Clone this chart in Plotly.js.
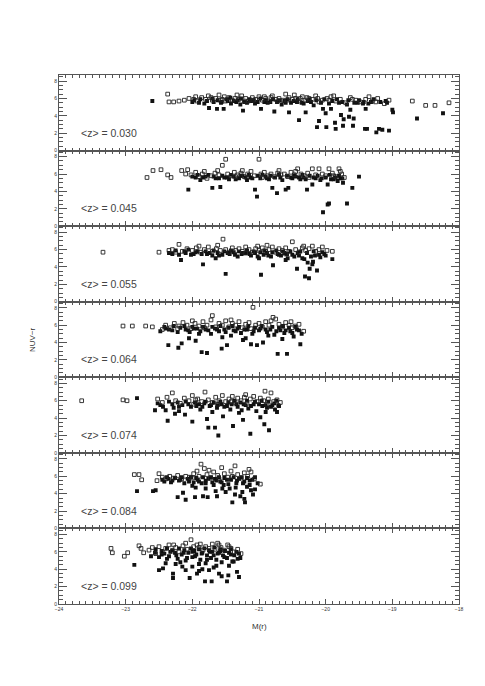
<!DOCTYPE html>
<html>
<head>
<meta charset="utf-8">
<script src="https://cdn.plot.ly/plotly-3.0.1.min.js"></script>
<style>
  html, body { margin: 0; padding: 0; background: #fff; }
  #chart { width: 485px; height: 686px; }
</style>
</head>
<body>
<div id="chart"></div>
<script>
// mean redshift of each slice, top to bottom
const redshifts = ['0.030', '0.045', '0.055', '0.064', '0.074', '0.084', '0.099']

// [M(r), NUV-r] pairs, open symbols and filled symbols per slice
const open030 = [[-22.37,6.5],[-22.35,5.6],[-22.28,5.6],[-22.2,5.7],[-22.12,5.8],[-22.05,6.0],[-21.98,5.9],[-21.93,5.7],[-21.86,6.1],[-21.8,5.9],[-21.76,6.3],[-21.7,5.8],[-21.65,6.0],[-21.6,6.4],[-21.55,5.9],[-21.5,5.7],[-21.45,6.1],[-21.4,5.8],[-21.36,6.0],[-21.3,5.9],[-21.26,6.3],[-21.2,6.0],[-21.16,5.7],[-21.1,6.1],[-21.05,5.9],[-21.0,6.2],[-20.95,5.8],[-20.9,6.0],[-20.85,5.7],[-20.8,6.3],[-20.75,5.9],[-20.7,6.0],[-20.64,5.8],[-20.6,6.5],[-20.55,6.1],[-20.5,5.9],[-20.45,6.0],[-20.4,5.7],[-20.35,6.2],[-20.3,5.8],[-20.25,6.0],[-20.2,5.9],[-20.15,6.3],[-20.1,5.6],[-20.05,5.8],[-19.98,6.0],[-19.92,6.2],[-19.85,5.7],[-19.78,5.9],[-19.7,5.5],[-19.63,6.1],[-19.55,5.8],[-19.48,5.6],[-19.4,5.9],[-19.3,5.7],[-19.22,6.0],[-19.12,5.4],[-19.05,5.8],[-18.7,5.7],[-18.5,5.2],[-18.36,5.2],[-18.15,5.5],[-21.95,6.2],[-21.72,6.1],[-21.52,6.2],[-21.33,6.4],[-21.08,5.8],[-20.92,6.2],[-20.72,5.7],[-20.47,6.4],[-20.28,6.1],[-20.12,6.0],[-19.95,5.8],[-19.88,6.3],[-19.6,5.9],[-19.35,6.2],[-19.25,5.6],[-21.58,5.8],[-21.22,5.7],[-20.82,6.1],[-20.58,5.8],[-20.38,6.0]]
const filled030 = [[-22.6,5.7],[-22.0,5.6],[-21.9,5.5],[-21.82,5.4],[-21.75,4.9],[-21.68,5.6],[-21.63,4.8],[-21.57,5.5],[-21.53,4.8],[-21.47,5.7],[-21.42,5.4],[-21.34,5.6],[-21.28,5.3],[-21.24,4.6],[-21.18,5.5],[-21.12,5.7],[-21.06,5.4],[-20.97,4.8],[-20.92,5.6],[-20.87,5.5],[-20.77,4.5],[-20.73,5.6],[-20.66,5.3],[-20.62,5.7],[-20.55,4.4],[-20.52,5.5],[-20.43,5.6],[-20.4,3.5],[-20.33,5.4],[-20.3,4.4],[-20.22,5.6],[-20.18,5.2],[-20.13,2.7],[-20.1,3.4],[-20.04,4.8],[-20.0,4.3],[-19.99,2.7],[-19.92,4.8],[-19.86,3.2],[-19.85,2.5],[-19.8,5.5],[-19.77,4.1],[-19.74,2.85],[-19.73,3.6],[-19.68,5.3],[-19.65,3.9],[-19.63,4.7],[-19.59,2.85],[-19.58,3.7],[-19.52,5.5],[-19.44,5.4],[-19.41,2.5],[-19.4,4.8],[-19.38,2.5],[-19.32,5.6],[-19.24,2.1],[-19.2,2.5],[-19.15,2.4],[-19.05,2.3],[-19.0,4.7],[-18.99,4.4],[-19.08,5.5],[-18.63,3.7],[-18.24,4.3]]
const core030 = [[-21.97,5.8],[-21.88,5.9],[-21.78,5.7],[-21.7,6.0],[-21.62,5.8],[-21.56,5.6],[-21.48,5.9],[-21.43,6.1],[-21.38,5.7],[-21.32,5.8],[-21.27,6.0],[-21.22,5.6],[-21.14,5.9],[-21.09,5.8],[-21.02,5.6],[-20.98,6.0],[-20.9,5.8],[-20.83,5.6],[-20.79,5.9],[-20.69,5.8],[-20.6,5.5],[-20.57,5.9],[-20.48,5.7],[-20.42,5.9],[-20.36,5.5],[-20.27,5.7],[-20.24,5.9],[-20.14,5.8],[-20.07,5.5],[-20.02,5.9],[-19.95,5.4],[-19.9,5.7],[-19.83,5.9],[-19.75,5.6],[-19.66,5.8],[-19.57,5.5],[-19.5,5.8],[-19.43,5.6],[-19.36,5.4],[-19.28,5.9],[-19.18,5.6],[-19.1,5.7]]

const open045 = [[-22.68,5.6],[-22.59,6.4],[-22.47,6.5],[-22.37,5.9],[-22.32,5.6],[-22.16,6.4],[-22.07,6.5],[-22.02,5.9],[-21.95,6.2],[-21.9,5.7],[-21.85,6.0],[-21.78,5.5],[-21.72,5.8],[-21.66,6.1],[-21.6,5.9],[-21.55,7.0],[-21.5,7.7],[-21.47,6.0],[-21.42,5.8],[-21.37,6.2],[-21.32,5.9],[-21.27,6.1],[-21.22,5.7],[-21.17,6.0],[-21.12,6.3],[-21.07,5.8],[-21.0,7.7],[-20.97,6.0],[-20.92,6.2],[-20.87,5.8],[-20.82,6.0],[-20.77,5.7],[-20.72,6.1],[-20.67,5.9],[-20.62,6.0],[-20.57,5.7],[-20.52,6.2],[-20.47,5.9],[-20.42,6.6],[-20.37,6.0],[-20.32,5.8],[-20.27,6.1],[-20.2,6.6],[-20.15,5.9],[-20.1,6.6],[-20.05,6.0],[-20.0,5.8],[-19.95,6.6],[-19.9,6.1],[-19.85,5.7],[-19.8,6.6],[-19.76,6.0],[-19.72,5.6],[-21.82,6.3],[-21.62,6.4],[-21.25,6.4],[-20.95,5.6],[-20.7,6.4],[-20.45,6.3],[-20.25,5.6],[-19.88,5.8],[-19.78,6.3],[-22.1,6.0],[-21.35,5.7]]
const filled045 = [[-22.06,4.2],[-21.95,5.6],[-21.88,5.3],[-21.8,5.7],[-21.7,4.4],[-21.65,5.5],[-21.58,4.5],[-21.52,5.6],[-21.45,5.4],[-21.38,5.7],[-21.3,5.5],[-21.25,5.8],[-21.18,5.3],[-21.13,5.6],[-21.06,4.2],[-21.03,3.4],[-20.98,5.5],[-20.9,5.7],[-20.85,5.4],[-20.8,4.4],[-20.73,3.8],[-20.68,5.6],[-20.6,4.2],[-20.56,4.4],[-20.5,5.5],[-20.45,5.7],[-20.38,5.4],[-20.33,5.6],[-20.28,4.2],[-20.2,4.8],[-20.15,5.5],[-20.08,5.3],[-20.04,1.6],[-19.97,2.5],[-19.95,2.6],[-19.97,4.8],[-19.92,5.4],[-19.86,5.6],[-19.82,5.2],[-19.78,5.5],[-19.74,5.0],[-19.68,2.6],[-19.6,4.4],[-19.5,5.7]]
const core045 = [[-22.0,5.7],[-21.92,5.9],[-21.84,5.6],[-21.76,5.9],[-21.68,5.7],[-21.6,5.5],[-21.55,5.8],[-21.48,5.6],[-21.42,5.9],[-21.35,5.4],[-21.28,5.8],[-21.2,5.6],[-21.15,5.9],[-21.1,5.5],[-21.02,5.8],[-20.95,5.9],[-20.88,5.5],[-20.83,5.8],[-20.76,5.6],[-20.7,5.9],[-20.65,5.3],[-20.58,5.8],[-20.52,5.6],[-20.47,5.8],[-20.4,5.6],[-20.35,5.9],[-20.3,5.4],[-20.24,5.8],[-20.18,5.6],[-20.12,5.8],[-20.06,5.5],[-20.0,5.6],[-19.94,5.9],[-19.88,5.4],[-19.8,5.8],[-19.75,5.5]]

const open055 = [[-23.34,5.7],[-22.5,5.7],[-22.35,5.9],[-22.3,6.0],[-22.2,6.6],[-22.15,5.8],[-22.08,6.1],[-22.0,5.9],[-21.94,6.2],[-21.88,5.7],[-21.82,6.0],[-21.76,6.3],[-21.7,5.8],[-21.64,6.1],[-21.58,5.9],[-21.54,7.2],[-21.5,6.0],[-21.45,5.7],[-21.4,6.2],[-21.35,5.9],[-21.3,6.1],[-21.25,5.8],[-21.2,6.3],[-21.15,6.0],[-21.1,5.7],[-21.05,6.1],[-21.0,5.9],[-20.95,6.2],[-20.9,5.8],[-20.85,6.0],[-20.8,6.3],[-20.75,5.7],[-20.7,6.1],[-20.65,5.9],[-20.6,6.2],[-20.55,5.8],[-20.5,6.9],[-20.45,6.0],[-20.4,5.7],[-20.35,6.2],[-20.3,5.9],[-20.25,6.1],[-20.2,6.4],[-20.15,5.8],[-20.1,6.0],[-20.05,6.3],[-19.98,5.9],[-19.9,5.8],[-21.9,6.4],[-21.62,6.5],[-21.2,5.6],[-20.88,6.5],[-20.6,5.5],[-20.33,6.4],[-22.25,5.7],[-21.02,6.4]]
const filled055 = [[-22.3,5.5],[-22.17,4.8],[-22.1,5.6],[-22.02,5.4],[-21.95,5.7],[-21.84,4.3],[-21.78,5.5],[-21.7,5.3],[-21.62,5.6],[-21.55,5.4],[-21.5,3.2],[-21.44,5.5],[-21.38,5.7],[-21.32,5.2],[-21.26,5.5],[-21.2,5.6],[-21.12,5.3],[-21.06,5.6],[-20.97,3.1],[-20.93,5.4],[-20.88,5.6],[-20.82,5.2],[-20.79,4.2],[-20.72,5.5],[-20.67,5.3],[-20.62,5.6],[-20.57,5.0],[-20.5,5.4],[-20.43,3.8],[-20.4,5.3],[-20.35,5.0],[-20.31,2.9],[-20.27,4.5],[-20.25,2.7],[-20.24,3.8],[-20.19,4.6],[-20.16,5.3],[-20.13,3.6],[-20.08,5.1],[-20.02,5.5],[-19.9,4.9]]
const core055 = [[-22.35,5.6],[-22.25,5.9],[-22.2,5.4],[-22.12,5.8],[-22.06,6.0],[-21.98,5.5],[-21.92,5.8],[-21.86,5.5],[-21.8,5.8],[-21.74,5.6],[-21.68,5.9],[-21.6,5.3],[-21.52,5.8],[-21.47,5.6],[-21.42,5.9],[-21.36,5.4],[-21.3,5.8],[-21.24,5.6],[-21.18,5.9],[-21.14,5.5],[-21.08,5.8],[-21.02,5.2],[-20.98,5.7],[-20.92,5.9],[-20.86,5.3],[-20.8,5.7],[-20.74,5.9],[-20.7,5.4],[-20.64,5.8],[-20.58,5.5],[-20.53,5.8],[-20.47,5.2],[-20.42,5.6],[-20.38,5.8],[-20.32,4.9],[-20.28,5.6],[-20.22,5.2],[-20.18,5.8],[-20.1,5.4],[-20.05,5.7],[-20.0,5.3],[-21.65,5.0],[-21.0,5.0],[-20.6,4.8],[-20.2,4.3]]

const open064 = [[-23.04,5.9],[-22.9,5.9],[-22.7,5.9],[-22.6,5.8],[-22.45,5.5],[-22.4,6.0],[-22.33,5.7],[-22.27,6.2],[-22.2,5.9],[-22.14,6.3],[-22.08,6.0],[-22.02,5.6],[-21.96,6.2],[-21.9,5.9],[-21.84,6.4],[-21.78,6.0],[-21.72,6.6],[-21.7,7.1],[-21.65,5.8],[-21.6,6.2],[-21.55,6.0],[-21.5,6.5],[-21.45,5.8],[-21.4,6.2],[-21.35,6.0],[-21.3,6.4],[-21.25,5.7],[-21.2,6.1],[-21.15,6.3],[-21.09,8.05],[-21.05,6.0],[-21.0,6.2],[-20.95,5.8],[-20.9,6.4],[-20.85,6.0],[-20.79,6.9],[-20.75,6.7],[-20.7,6.1],[-20.65,5.8],[-20.6,6.3],[-20.55,6.0],[-20.5,5.7],[-20.46,5.9],[-20.4,6.1],[-20.33,5.3],[-22.0,6.5],[-21.82,5.7],[-21.42,6.6],[-21.12,5.6],[-20.82,6.5],[-20.52,6.4],[-22.22,5.6]]
const filled064 = [[-22.48,5.3],[-22.4,5.6],[-22.36,3.7],[-22.3,5.4],[-22.21,3.4],[-22.16,3.9],[-22.1,5.5],[-22.04,5.2],[-21.98,5.6],[-21.95,4.2],[-21.88,5.3],[-21.86,2.9],[-21.8,5.5],[-21.78,2.8],[-21.72,5.0],[-21.66,5.6],[-21.6,5.3],[-21.56,3.3],[-21.52,5.5],[-21.48,3.7],[-21.42,4.8],[-21.38,5.4],[-21.32,5.6],[-21.27,5.1],[-21.24,4.3],[-21.18,5.5],[-21.12,3.8],[-21.08,5.3],[-21.03,3.7],[-20.98,5.6],[-20.94,4.0],[-20.88,5.2],[-20.83,5.5],[-20.77,4.9],[-20.72,2.7],[-20.68,5.4],[-20.62,5.1],[-20.58,2.7],[-20.53,5.3],[-20.48,4.7],[-20.43,5.5],[-20.38,3.8],[-20.36,5.0]]
const core064 = [[-22.42,5.8],[-22.35,5.5],[-22.28,5.9],[-22.22,5.2],[-22.18,5.7],[-22.12,5.9],[-22.06,5.4],[-22.0,5.8],[-21.93,5.6],[-21.9,5.0],[-21.84,5.8],[-21.76,5.4],[-21.7,5.8],[-21.63,5.5],[-21.58,5.9],[-21.5,5.2],[-21.46,5.7],[-21.4,5.9],[-21.35,5.3],[-21.3,5.8],[-21.22,5.5],[-21.16,5.9],[-21.1,5.0],[-21.06,5.7],[-21.0,5.4],[-20.96,5.9],[-20.9,5.5],[-20.86,4.8],[-20.8,5.8],[-20.74,5.3],[-20.7,5.7],[-20.64,5.9],[-20.6,5.4],[-20.55,5.7],[-20.5,5.1],[-20.45,5.8],[-20.4,5.4],[-21.55,4.6],[-21.2,4.5],[-20.65,4.4],[-22.05,4.5]]

const open074 = [[-23.66,6.0],[-23.04,6.1],[-22.98,6.0],[-22.52,6.2],[-22.45,5.8],[-22.38,6.4],[-22.3,6.9],[-22.25,6.0],[-22.18,5.7],[-22.12,6.3],[-22.05,6.0],[-21.98,5.6],[-21.92,6.2],[-21.86,5.9],[-21.81,7.0],[-21.76,6.1],[-21.7,5.8],[-21.65,6.4],[-21.6,6.0],[-21.55,6.6],[-21.5,5.9],[-21.45,6.2],[-21.4,6.5],[-21.36,5.8],[-21.32,6.3],[-21.27,6.0],[-21.22,6.4],[-21.18,5.7],[-21.13,6.2],[-21.08,6.5],[-21.03,5.9],[-20.98,6.3],[-20.93,6.0],[-20.91,7.1],[-20.86,6.2],[-20.82,6.9],[-20.78,5.9],[-20.73,6.1],[-20.68,5.8],[-22.0,6.6],[-21.62,5.6],[-21.2,6.7],[-20.88,5.6],[-21.95,6.1],[-21.42,5.9]]
const filled074 = [[-22.83,6.3],[-22.56,4.9],[-22.48,5.5],[-22.4,4.9],[-22.37,3.7],[-22.3,5.6],[-22.26,4.5],[-22.2,5.3],[-22.11,4.4],[-22.06,5.6],[-22.0,3.6],[-21.94,5.4],[-21.88,5.0],[-21.82,5.7],[-21.78,3.9],[-21.76,2.9],[-21.72,5.5],[-21.66,2.9],[-21.63,5.2],[-21.61,2.0],[-21.56,5.6],[-21.54,4.2],[-21.48,5.4],[-21.43,5.0],[-21.39,3.1],[-21.34,5.6],[-21.3,4.6],[-21.24,3.8],[-21.2,5.5],[-21.16,5.1],[-21.13,2.2],[-21.08,5.6],[-21.04,4.8],[-20.98,4.1],[-20.95,5.4],[-20.92,3.3],[-20.88,5.2],[-20.85,2.6],[-20.8,5.5],[-20.76,5.0],[-20.73,4.7],[-20.7,5.4]]
const core074 = [[-22.52,5.7],[-22.44,5.3],[-22.35,5.9],[-22.28,5.2],[-22.22,5.8],[-22.15,5.5],[-22.1,5.9],[-22.02,5.3],[-21.96,5.8],[-21.9,5.6],[-21.85,5.3],[-21.8,5.9],[-21.74,5.4],[-21.68,5.8],[-21.62,5.5],[-21.58,5.9],[-21.52,5.3],[-21.46,5.8],[-21.41,5.6],[-21.37,6.0],[-21.32,5.3],[-21.28,5.8],[-21.23,5.6],[-21.18,6.0],[-21.12,5.4],[-21.06,5.9],[-21.0,5.6],[-20.96,6.0],[-20.9,5.5],[-20.86,5.9],[-20.82,5.3],[-20.77,5.7],[-20.74,6.0],[-20.71,5.5],[-21.7,4.7],[-21.26,4.9],[-20.9,4.7],[-22.2,4.8]]

const open084 = [[-22.87,6.2],[-22.8,6.2],[-22.76,5.6],[-22.53,5.5],[-22.5,6.3],[-22.45,5.9],[-22.4,5.7],[-22.34,6.0],[-22.28,5.8],[-22.22,6.1],[-22.16,5.7],[-22.1,6.0],[-22.04,5.9],[-21.98,6.3],[-21.93,6.6],[-21.87,7.4],[-21.82,6.9],[-21.78,6.2],[-21.73,5.8],[-21.68,6.5],[-21.62,6.1],[-21.56,7.0],[-21.52,6.3],[-21.47,5.9],[-21.42,6.6],[-21.36,7.2],[-21.32,6.2],[-21.27,5.8],[-21.22,6.4],[-21.17,6.0],[-21.12,6.5],[-21.07,5.7],[-20.98,5.1],[-21.9,6.0],[-21.6,5.7],[-21.4,6.0],[-21.75,6.7],[-21.15,6.8],[-22.0,5.8]]
const filled084 = [[-22.83,4.3],[-22.59,4.3],[-22.55,4.4],[-22.42,5.4],[-22.36,5.7],[-22.3,5.5],[-22.22,3.6],[-22.18,5.6],[-22.14,4.1],[-22.1,3.3],[-22.05,5.4],[-21.96,3.6],[-21.92,5.6],[-21.86,5.2],[-21.84,3.7],[-21.8,5.5],[-21.77,3.6],[-21.7,5.3],[-21.66,5.7],[-21.63,3.7],[-21.58,5.4],[-21.53,5.0],[-21.48,5.6],[-21.44,4.6],[-21.4,3.0],[-21.36,3.9],[-21.33,5.5],[-21.28,3.7],[-21.24,5.2],[-21.21,3.0],[-21.18,4.8],[-21.14,5.5],[-21.09,3.9],[-21.06,4.5],[-21.02,5.2],[-21.25,4.2],[-21.55,4.6],[-21.95,4.7],[-21.22,3.4]]
const core084 = [[-22.45,5.6],[-22.38,5.9],[-22.32,5.3],[-22.26,5.8],[-22.2,5.5],[-22.16,5.9],[-22.12,5.2],[-22.07,5.7],[-22.02,5.9],[-21.98,5.3],[-21.94,5.8],[-21.9,5.4],[-21.84,5.9],[-21.8,5.2],[-21.76,5.7],[-21.72,5.9],[-21.68,5.0],[-21.64,5.5],[-21.6,5.9],[-21.56,5.3],[-21.52,5.8],[-21.46,5.1],[-21.42,5.6],[-21.38,5.9],[-21.34,5.2],[-21.3,5.7],[-21.26,5.9],[-21.22,5.4],[-21.18,5.8],[-21.14,5.0],[-21.1,5.6],[-21.06,5.9],[-21.12,4.4],[-21.5,4.2],[-21.8,4.6],[-22.0,4.9],[-21.35,4.7],[-21.65,4.3]]

const open099 = [[-23.22,6.4],[-23.2,5.9],[-23.02,5.5],[-22.97,5.9],[-22.8,6.7],[-22.77,6.4],[-22.73,5.9],[-22.65,6.2],[-22.6,6.5],[-22.55,5.8],[-22.5,6.6],[-22.45,6.0],[-22.4,6.4],[-22.35,6.8],[-22.3,6.1],[-22.25,6.5],[-22.2,6.0],[-22.14,6.7],[-22.08,6.3],[-22.02,7.4],[-21.98,6.6],[-21.93,6.8],[-21.88,6.9],[-21.84,6.2],[-21.8,6.6],[-21.75,6.4],[-21.7,6.9],[-21.66,6.3],[-21.62,7.0],[-21.57,6.5],[-21.52,6.2],[-21.47,6.8],[-21.42,6.4],[-21.37,6.0],[-21.32,6.3],[-21.27,5.8],[-22.1,7.0],[-21.9,6.5],[-21.6,6.8],[-21.45,6.6],[-22.28,6.8]]
const filled099 = [[-22.87,4.5],[-22.62,5.5],[-22.56,5.9],[-22.5,3.9],[-22.46,5.7],[-22.44,4.1],[-22.38,5.2],[-22.33,6.0],[-22.29,3.5],[-22.29,3.0],[-22.24,5.6],[-22.18,4.8],[-22.13,5.9],[-22.08,5.3],[-22.04,3.0],[-22.0,6.0],[-21.96,5.5],[-21.93,3.5],[-21.9,4.6],[-21.86,5.8],[-21.81,2.6],[-21.78,5.1],[-21.74,6.0],[-21.71,2.6],[-21.68,5.6],[-21.64,4.4],[-21.6,5.9],[-21.56,3.2],[-21.52,5.4],[-21.48,2.6],[-21.46,3.3],[-21.42,5.7],[-21.38,4.9],[-21.33,3.7],[-21.3,3.1],[-21.28,5.3],[-21.75,3.9],[-22.15,4.3],[-21.85,4.0],[-21.58,6.1]]
const core099 = [[-22.55,6.3],[-22.5,5.4],[-22.46,6.1],[-22.42,5.8],[-22.38,6.4],[-22.35,5.5],[-22.3,6.2],[-22.26,5.9],[-22.22,5.2],[-22.2,6.4],[-22.16,5.7],[-22.12,6.2],[-22.1,5.0],[-22.06,5.9],[-22.02,6.4],[-22.0,5.4],[-21.97,6.1],[-21.94,5.7],[-21.9,6.3],[-21.88,5.1],[-21.85,5.9],[-21.82,6.4],[-21.8,4.7],[-21.78,5.6],[-21.75,6.2],[-21.72,5.3],[-21.7,6.0],[-21.67,6.5],[-21.64,5.1],[-21.62,5.8],[-21.58,6.3],[-21.56,4.8],[-21.54,5.6],[-21.51,6.1],[-21.48,5.3],[-21.45,5.9],[-21.42,6.3],[-21.4,4.9],[-21.37,5.6],[-21.34,6.0],[-21.32,5.2],[-21.3,5.8],[-22.25,4.6],[-22.0,4.3],[-21.68,4.2],[-21.45,4.4],[-22.4,4.7],[-21.9,3.8],[-21.6,3.5],[-22.1,3.9]]

const xTicks = [-24, -23, -22, -21, -20, -19, -18]
const yTicks = [0, 2, 4, 6, 8]

const openSets = [open030, open045, open055, open064, open074, open084, open099]
const filledSets = [filled030, filled045, filled055, filled064, filled074, filled084, filled099]
const coreSets = [core030, core045, core055, core064, core074, core084, core099]

const nPanels = redshifts.length
const data = []
const layout = {
    width: 485,
    height: 686,
    margin: {l: 59, r: 26, t: 75, b: 82},
    paper_bgcolor: '#fff',
    plot_bgcolor: '#fff',
    showlegend: false,
    font: {family: 'Liberation Sans, Arial, sans-serif', color: '#333'},
    annotations: []
}

for (let i = 0; i < nPanels; i++){
    const n = i + 1
    const xName = n === 1 ? 'x' : 'x' + n
    const yName = n === 1 ? 'y' : 'y' + n
    const xKey = n === 1 ? 'xaxis' : 'xaxis' + n
    const yKey = n === 1 ? 'yaxis' : 'yaxis' + n
    const top = 1 - i / nPanels
    const bottom = 1 - (i + 1) / nPanels
    const isBottom = i === nPanels - 1
    const filled = filledSets[i].concat(coreSets[i])

    data.push({
        type: 'scatter', mode: 'markers',
        x: filled.map(p => p[0]), y: filled.map(p => p[1]),
        xaxis: xName, yaxis: yName,
        marker: {symbol: 'square', size: 3.9, color: '#111'}
    })
    data.push({
        type: 'scatter', mode: 'markers',
        x: openSets[i].map(p => p[0]), y: openSets[i].map(p => p[1]),
        xaxis: xName, yaxis: yName,
        marker: {symbol: 'square-open', size: 3.7, color: '#222', line: {width: 0.9}}
    })

    layout[xKey] = {
        range: [-24, -18],
        domain: [0, 1],
        anchor: yName,
        matches: n === 1 ? undefined : 'x',
        showgrid: false, zeroline: false,
        showline: true, linecolor: '#555', linewidth: 1, mirror: 'ticks',
        ticks: 'inside', ticklen: 5, tickcolor: '#555', tickwidth: 1,
        tickvals: xTicks,
        showticklabels: isBottom,
        tickfont: {size: 5, color: '#333'},
        minor: {dtick: 0.1, ticks: 'inside', ticklen: 3, tickcolor: '#555', showgrid: false}
    }
    layout[yKey] = {
        range: [0, 8.7],
        domain: [bottom, top],
        anchor: xName,
        showgrid: false, zeroline: false,
        showline: true, linecolor: '#555', linewidth: 1, mirror: 'ticks',
        ticks: 'inside', ticklen: 8, tickcolor: '#555', tickwidth: 1,
        tickvals: yTicks,
        tickfont: {size: 5, color: '#333'},
        minor: {dtick: 0.5, ticks: 'inside', ticklen: 4, tickcolor: '#555', showgrid: false}
    }
    layout.annotations.push({
        text: '&lt;z&gt; = ' + redshifts[i],
        xref: xName, yref: yName,
        x: -23.7, y: 2.05,
        xanchor: 'left', yanchor: 'middle',
        showarrow: false,
        font: {size: 10.5, color: '#444'}
    })
}

layout.annotations.push({
    text: 'M(r)', xref: 'paper', yref: 'paper',
    x: 0.5, y: 0, yshift: -16, xanchor: 'center', yanchor: 'top',
    showarrow: false, font: {size: 8, color: '#333'}
})
layout.annotations.push({
    text: 'NUV\u2212r', xref: 'paper', yref: 'paper',
    x: 0, xshift: -20, y: 0.5, xanchor: 'right', yanchor: 'middle',
    textangle: -90, showarrow: false, font: {size: 8, color: '#333'}
})

Plotly.newPlot('chart', data, layout, {staticPlot: true, displayModeBar: false})
</script>
</body>
</html>
